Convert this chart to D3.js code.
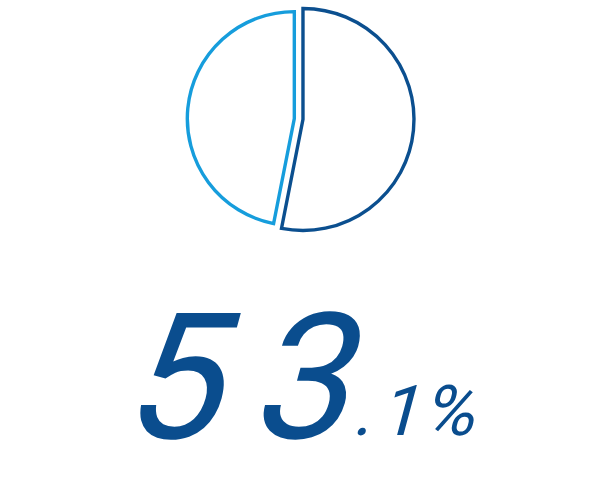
<!DOCTYPE html>
<html><head><meta charset="utf-8">
<script src="https://cdn.jsdelivr.net/npm/d3@7/dist/d3.min.js"></script>
<style>body{margin:0;background:#fff}</style>
</head><body>
<svg id="c" width="600" height="500"></svg>
<script>
const categories = ["A", "B"];
const values = [53.1, 46.9];
const colors = ["#0b4f8f", "#169ddc"];
const mainLabel = "53";
const decimalParts = [".", "1", "%"];

const svg = d3.select("#c");
const cx = 298.5, cy = 119;
const radii = [111, 107];
const explode = [4.5, 4.2];

const pie = d3.pie().sort(null).value(d => d.v);
const arcs = pie(categories.map((c, i) => ({c, v: values[i], i})));

const g = svg.append("g").attr("transform", `translate(${cx},${cy})`);
g.selectAll("path").data(arcs).join("path")
  .attr("transform", d => {
    const a = (d.startAngle + d.endAngle) / 2;
    const e = explode[d.data.i];
    return `translate(${Math.sin(a) * e},${-Math.cos(a) * e})`;
  })
  .attr("d", d => d3.arc().innerRadius(0).outerRadius(radii[d.data.i])(d))
  .attr("fill", "#fff")
  .attr("stroke", (d) => colors[d.data.i])
  .attr("stroke-width", 3.4)
  .attr("stroke-linejoin", "miter");

svg.append("text")
  .attr("transform", "translate(119,438) skewX(-15)")
  .attr("font-family", "Roboto")
  .attr("font-size", 176)
  .attr("letter-spacing", 30)
  .attr("fill", "#0a4d8e")
  .text(mainLabel);

const small = svg.append("text")
  .attr("transform", "translate(352,435) skewX(-15)")
  .attr("font-family", "Roboto")
  .attr("font-size", 70)
  .attr("fill", "#0a4d8e");
const gaps = [0, 8, 4];
small.selectAll("tspan").data(decimalParts).join("tspan")
  .attr("dx", (d, i) => gaps[i])
  .text(d => d);
</script>
</body></html>
